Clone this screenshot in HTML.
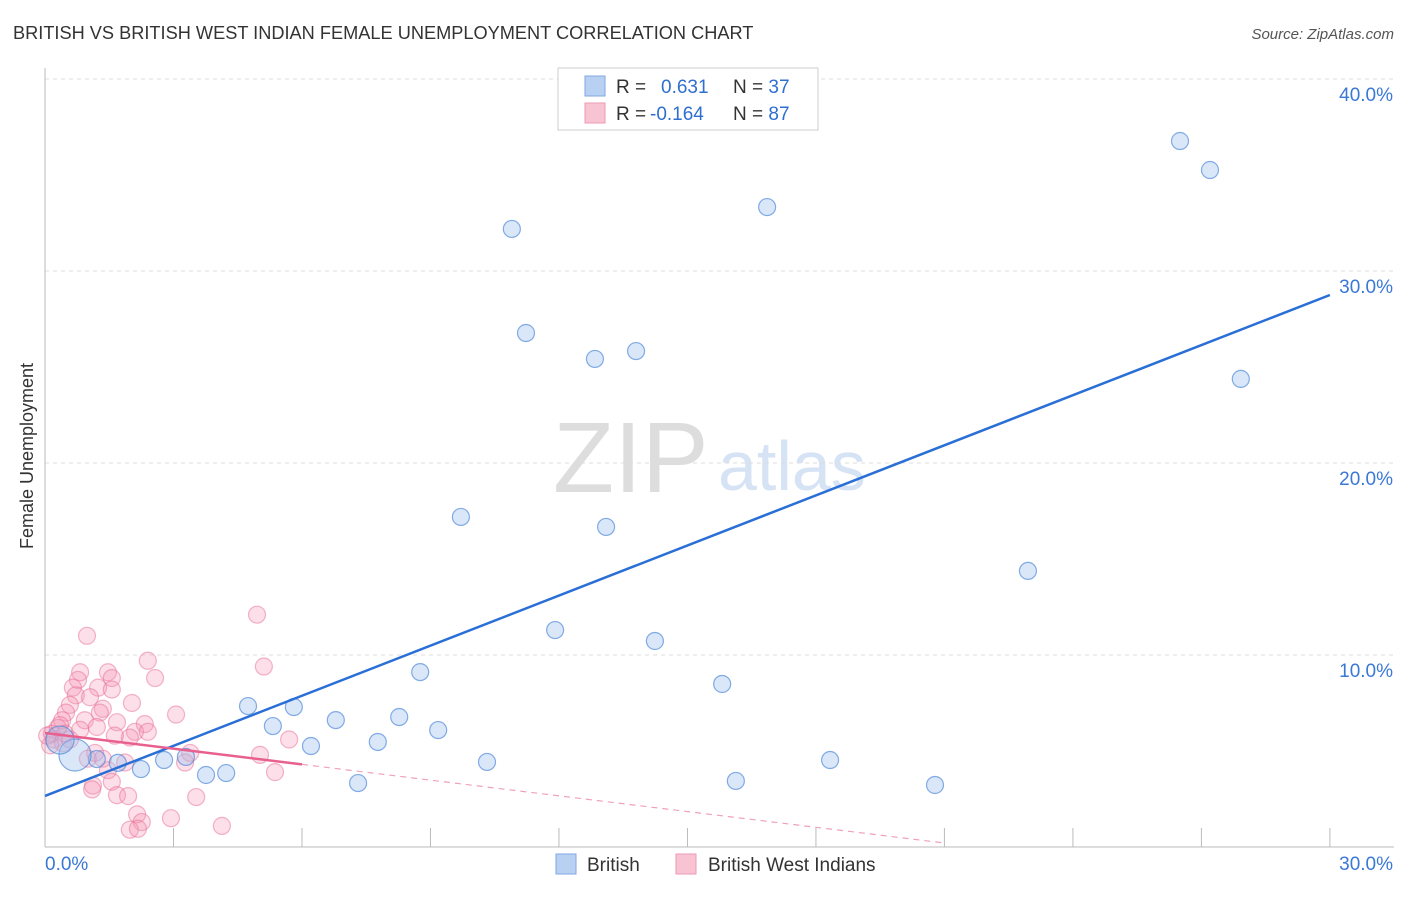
<!DOCTYPE html>
<html><head><meta charset="utf-8"><style>
body{margin:0;background:#fff;font-family:"Liberation Sans",sans-serif}
svg text{font-family:"Liberation Sans",sans-serif}
</style></head><body>
<svg id="c" width="1406" height="892">
<text x="13" y="39" font-size="18.2" fill="#333">BRITISH VS BRITISH WEST INDIAN FEMALE UNEMPLOYMENT CORRELATION CHART</text>
<text x="1394" y="39" font-size="15" fill="#555" font-style="italic" text-anchor="end">Source: ZipAtlas.com</text>
<text transform="translate(33,456) rotate(-90)" font-size="18" fill="#333" text-anchor="middle">Female Unemployment</text>
<text x="553" y="492" font-size="100" fill="#ddd" font-family="Liberation Serif">ZIP</text>
<text x="718" y="490" font-size="70" fill="#d6e3f5">atlas</text>
<g id="grid"></g><g id="axes"></g><g id="pts"></g><g id="lines"></g>
<g>
<rect x="558" y="68" width="260" height="62" fill="#fff" stroke="#ccc"/>
<rect x="585" y="76" width="20" height="20" fill="#b8d1f3" stroke="#7fa6df"/>
<rect x="585" y="103" width="20" height="20" fill="#f8c4d3" stroke="#ee9ab3"/>
<text x="616" y="93" font-size="19" fill="#333">R = <tspan x="661" fill="#2f6fcf">0.631</tspan><tspan x="733" fill="#333">N = </tspan><tspan fill="#2f6fcf">37</tspan></text>
<text x="616" y="120" font-size="19" fill="#333">R = <tspan x="650" fill="#2f6fcf">-0.164</tspan><tspan x="733" fill="#333">N = </tspan><tspan fill="#2f6fcf">87</tspan></text>
</g>
<g>
<rect x="556" y="854" width="20" height="20" fill="#b8d1f3" stroke="#7fa6df"/>
<text x="587" y="871" font-size="19" fill="#333">British</text>
<rect x="676" y="854" width="20" height="20" fill="#f8c4d3" stroke="#ee9ab3"/>
<text x="708" y="871" font-size="19" fill="#333">British West Indians</text>
</g>
</svg>
<script>
const yTicks=[10,20,30,40];
const yTickLabels=["10.0%","20.0%","30.0%","40.0%"];
const xEndLabels=["0.0%","30.0%"];
const britishX=[26.5,27.2,16.86,10.9,11.23,12.84,13.8,27.92,9.71,13.1,22.95,11.91,14.24,8.76,15.81,4.74,5.81,5.32,6.79,8.27,9.18,6.21,7.77,10.32,18.33,16.13,20.78,7.31,2.78,3.29,3.76,4.23,2.24,1.7,1.21,0.7,0.35];
const britishY=[36.77,35.26,33.33,32.19,26.77,25.42,25.83,24.38,17.19,16.67,14.38,11.3,10.73,9.11,8.49,7.34,7.29,6.3,6.61,6.77,6.09,5.26,5.47,4.43,4.53,3.44,3.23,3.33,4.53,4.69,3.75,3.85,4.06,4.38,4.58,4.79,5.57];
const bwiX=[0.98,4.95,2.4,5.11,0.82,1.47,2.57,0.77,1.56,0.65,1.24,1.56,0.72,1.05,2.03,0.58,1.35,0.49,3.06,1.28,0.4,0.93,1.68,2.33,0.3,1.21,0.16,2.1,2.4,1.98,1.63,0.21,0.42,5.7,3.39,1.17,5.02,1.0,1.35,3.27,1.87,1.47,5.37,1.12,1.56,1.1,3.53,1.68,1.94,2.15,2.26,2.94,1.98,2.17,4.13,0.35,0.12,0.58,0.82,0.05,0.47];
const bwiY=[11.0,12.1,9.7,9.4,9.1,9.1,8.8,8.7,8.8,8.3,8.3,8.2,7.9,7.8,7.5,7.4,7.2,7.0,6.9,7.0,6.6,6.6,6.5,6.4,6.2,6.25,5.9,6.0,6.0,5.7,5.8,5.6,5.4,5.6,4.9,4.9,4.8,4.6,4.6,4.4,4.4,4.0,3.9,3.2,3.4,3.0,2.6,2.7,2.65,1.7,1.3,1.5,0.9,0.95,1.1,6.35,5.3,5.6,6.1,5.8,5.9];
const britishTrend=[2.66,28.75]; // y at x=0 and x=30
const bwiTrend=[5.94,-0.273]; // intercept, slope
const NS='http://www.w3.org/2000/svg';
const X=v=>45+v*42.83, Y=v=>847-v*19.2;
function mk(t,a,p){const e=document.createElementNS(NS,t);for(const k in a)e.setAttribute(k,a[k]);document.getElementById(p).appendChild(e);return e;}
yTicks.forEach((t,i)=>{
 const l=mk('line',{x1:45,x2:1394,y1:Y(t),y2:Y(t),stroke:'#ddd','stroke-dasharray':'4,4'},'grid');
 
 
 const tx=mk('text',{x:1393,y:Y(t)+22,'font-size':19,fill:'#3a78d6','text-anchor':'end'},'grid');tx.textContent=yTickLabels[i];
 
 
});
mk('line',{x1:45,x2:45,y1:68,y2:847,stroke:'#bbb'},'axes');
mk('line',{x1:45,x2:1394,y1:847,y2:847,stroke:'#bbb'},'axes');
for(let i=1;i<=10;i++){const l=mk('line',{x1:X(i*3),x2:X(i*3),y1:828,y2:847,stroke:'#bbb'},'axes');
 
 }
[[45,'start',0],[1393,'end',1]].forEach(([x,a,i])=>{const t=mk('text',{x:x,y:870,'font-size':19,fill:'#3a78d6','text-anchor':a},'axes');t.textContent=xEndLabels[i];
 
 });
bwiX.forEach((x,i)=>{const c=mk('circle',{cx:X(x),cy:Y(bwiY[i]),r:8.5,fill:'rgba(244,150,178,0.3)',stroke:'rgba(232,110,150,0.5)','stroke-width':1.2},'pts');
 
 });
britishX.forEach((x,i)=>{const r=i==35?16:(i==36?14:8.5);const c=mk('circle',{cx:X(x),cy:Y(britishY[i]),r:r,fill:'rgba(160,195,240,0.4)',stroke:'rgba(70,130,215,0.65)','stroke-width':1.2},'pts');
 
 });
const bl=mk('line',{x1:X(0),y1:Y(britishTrend[0]),x2:X(30),y2:Y(britishTrend[1]),stroke:'#2a6fd6','stroke-width':2.5},'lines');


const pl=mk('line',{x1:X(0),y1:Y(bwiTrend[0]),x2:X(6),y2:Y(bwiTrend[0]+6*bwiTrend[1]),stroke:'#e8608e','stroke-width':2.5},'lines');


const pd=mk('line',{x1:X(6),y1:Y(bwiTrend[0]+6*bwiTrend[1]),x2:X(21),y2:Y(bwiTrend[0]+21*bwiTrend[1]),stroke:'#f0a0bb','stroke-width':1.2,'stroke-dasharray':'6,5'},'lines');


</script>
</body></html>
